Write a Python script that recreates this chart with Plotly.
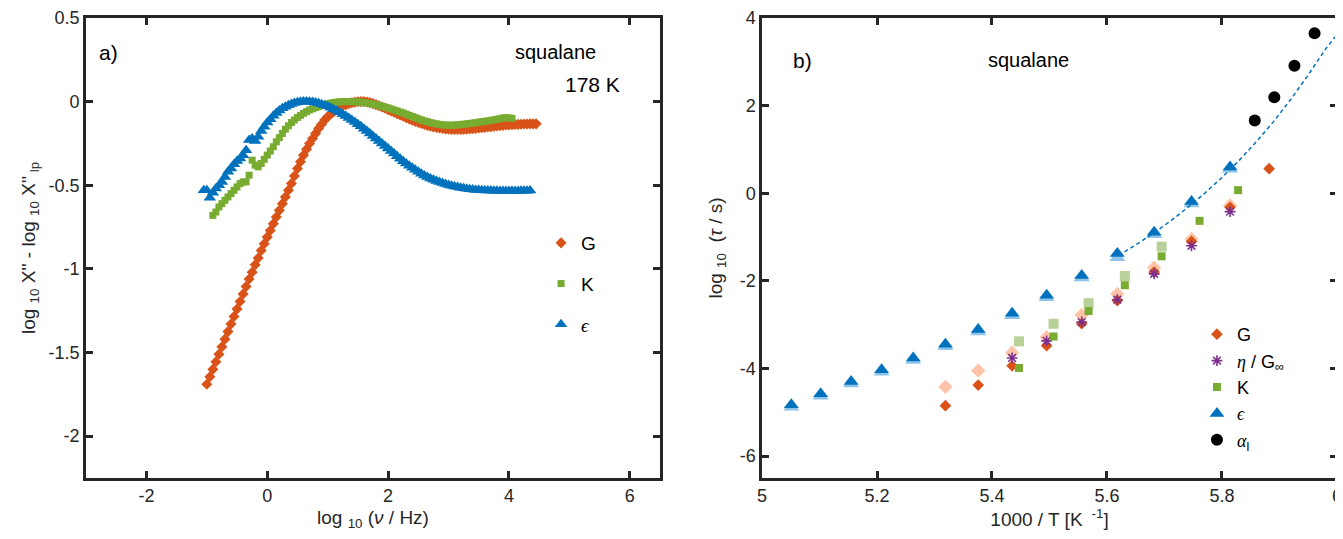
import plotly.graph_objects as go

# ---------------- Panel a data ----------------
log_freq = [-1.05, -1.00, -0.95, -0.90, -0.85, -0.80, -0.75, -0.70, -0.65, -0.60,
            -0.55, -0.50, -0.45, -0.40, -0.35, -0.30, -0.25, -0.20, -0.15, -0.10,
            -0.05, 0.00, 0.05, 0.10, 0.15, 0.20, 0.25, 0.30, 0.35, 0.40,
            0.45, 0.50, 0.55, 0.60, 0.65, 0.70, 0.75, 0.80, 0.85, 0.90,
            0.95, 1.00, 1.05, 1.10, 1.15, 1.20, 1.25, 1.30, 1.35, 1.40,
            1.45, 1.50, 1.55, 1.60, 1.65, 1.70, 1.75, 1.80, 1.85, 1.90,
            1.95, 2.00, 2.05, 2.10, 2.15, 2.20, 2.25, 2.30, 2.35, 2.40,
            2.45, 2.50, 2.55, 2.60, 2.65, 2.70, 2.75, 2.80, 2.85, 2.90,
            2.95, 3.00, 3.05, 3.10, 3.15, 3.20, 3.25, 3.30, 3.35, 3.40,
            3.45, 3.50, 3.55, 3.60, 3.65, 3.70, 3.75, 3.80, 3.85, 3.90,
            3.95, 4.00, 4.05, 4.10, 4.15, 4.20, 4.25, 4.30, 4.35, 4.40,
            4.45]

G_spec = [-1.69, -1.645, -1.60, -1.555, -1.51, -1.465, -1.42, -1.375, -1.33, -1.285,
          -1.24, -1.195, -1.15, -1.105, -1.06, -1.02, -0.975, -0.935, -0.89, -0.85,
          -0.81, -0.77, -0.73, -0.69, -0.65, -0.61, -0.57, -0.53, -0.49, -0.445,
          -0.40, -0.36, -0.32, -0.285, -0.25, -0.22, -0.19, -0.16, -0.135, -0.11,
          -0.09, -0.075, -0.06, -0.045, -0.035, -0.025, -0.018, -0.012, -0.007, -0.003,
          -0.001, 0.0, 0.0, -0.002, -0.006, -0.012, -0.018, -0.025, -0.032, -0.04,
          -0.048, -0.056, -0.064, -0.072, -0.08, -0.088, -0.096, -0.104, -0.111, -0.118,
          -0.125, -0.131, -0.137, -0.142, -0.147, -0.151, -0.155, -0.158, -0.161, -0.163,
          -0.165, -0.166, -0.167, -0.167, -0.167, -0.166, -0.165, -0.164, -0.162, -0.16,
          -0.158, -0.156, -0.154, -0.152, -0.15, -0.148, -0.146, -0.144, -0.142, -0.14,
          -0.139, -0.138, -0.137, -0.136, -0.135, -0.134, -0.134, -0.133, -0.133, -0.133]

K_spec = [-0.68, -0.66, -0.63, -0.61, -0.59, -0.57, -0.55, -0.53, -0.51, -0.49,
          -0.48, -0.48, -0.44, -0.35, -0.38, -0.39, -0.37, -0.345, -0.32, -0.295,
          -0.27, -0.24, -0.215, -0.19, -0.165, -0.145, -0.125, -0.11, -0.095, -0.082,
          -0.07, -0.06, -0.05, -0.043, -0.036, -0.03, -0.024, -0.018, -0.013, -0.009,
          -0.006, -0.003, -0.001, 0.0, 0.0, 0.0, 0.0, -0.001, -0.002, -0.004,
          -0.006, -0.009, -0.012, -0.015, -0.019, -0.023, -0.028, -0.033, -0.038, -0.044,
          -0.05, -0.056, -0.062, -0.068, -0.075, -0.082, -0.089, -0.096, -0.103, -0.109,
          -0.115, -0.12, -0.125, -0.129, -0.133, -0.136, -0.139, -0.14, -0.141, -0.141,
          -0.14, -0.139, -0.137, -0.135, -0.133, -0.131, -0.128, -0.126, -0.123, -0.12,
          -0.118, -0.115, -0.112, -0.109, -0.106, -0.102, -0.098, -0.095, -0.098, -0.10]

eps_spec = [-0.53, -0.53, -0.575, -0.545, -0.52, -0.50, -0.48, -0.45, -0.42, -0.40,
            -0.375, -0.355, -0.34, -0.32, -0.29, -0.23, -0.22, -0.235, -0.21, -0.175,
            -0.15, -0.125, -0.105, -0.085, -0.068, -0.053, -0.04, -0.03, -0.021, -0.014,
            -0.008, -0.004, -0.001, 0.0, 0.0, -0.001, -0.003, -0.006, -0.01, -0.015,
            -0.021, -0.028, -0.036, -0.045, -0.054, -0.064, -0.075, -0.086, -0.098, -0.11,
            -0.122, -0.135, -0.148, -0.162, -0.176, -0.19, -0.205, -0.22, -0.235, -0.25,
            -0.265, -0.28, -0.295, -0.31, -0.326, -0.341, -0.356, -0.37, -0.383, -0.396,
            -0.408, -0.42, -0.431, -0.441, -0.45, -0.459, -0.467, -0.474, -0.481, -0.487,
            -0.493, -0.498, -0.503, -0.507, -0.511, -0.515, -0.518, -0.521, -0.524, -0.526,
            -0.528, -0.529, -0.530, -0.531, -0.532, -0.532, -0.533, -0.533, -0.534, -0.534,
            -0.534, -0.534, -0.534, -0.534, -0.534, -0.533, -0.533, -0.533, -0.532]

G_freq = log_freq[1:111]
K_freq = log_freq[3:103]
eps_freq = log_freq[0:109]

# ---------------- Panel b data ----------------
eps_invT = [5.051, 5.102, 5.155, 5.208, 5.263, 5.319, 5.376, 5.435, 5.495, 5.556, 5.618, 5.682, 5.747, 5.814]
eps_tau = [-4.83, -4.58, -4.30, -4.03, -3.76, -3.45, -3.11, -2.74, -2.33, -1.88, -1.375, -0.89, -0.19, 0.60]
eps_tau_alt = [-4.88, -4.63, -4.35, -4.08, -3.81, -3.50, -3.16, -2.79, -2.38, -1.93, -1.47, -0.94, -0.24, 0.55]

G_invT = [5.319, 5.376, 5.435, 5.495, 5.556, 5.618, 5.682, 5.747, 5.814, 5.882]
G_tau = [-4.85, -4.38, -3.94, -3.48, -2.98, -2.45, -1.80, -1.10, -0.32, 0.56]
G_alt_invT = [5.319, 5.376, 5.435, 5.495, 5.556, 5.618, 5.682, 5.747, 5.814]
G_tau_alt = [-4.42, -4.05, -3.64, -3.29, -2.78, -2.30, -1.70, -1.05, -0.28]

eta_invT = [5.435, 5.495, 5.556, 5.618, 5.682, 5.747, 5.814]
eta_tau = [-3.76, -3.37, -2.94, -2.43, -1.84, -1.20, -0.42]

K_invT = [5.447, 5.507, 5.568, 5.631, 5.695, 5.761, 5.828]
K_tau = [-3.99, -3.27, -2.69, -2.10, -1.44, -0.63, 0.07]
K_alt_invT = [5.447, 5.507, 5.568, 5.631, 5.695]
K_tau_alt = [-3.38, -2.98, -2.51, -1.89, -1.22]

alpha_invT = [5.857, 5.891, 5.926, 5.961]
alpha_tau = [1.66, 2.19, 2.91, 3.65]

fit_invT = [5.62, 5.65, 5.68, 5.71, 5.74, 5.77, 5.80, 5.83, 5.86, 5.89, 5.92, 5.95, 5.98, 6.00]
fit_tau = [-1.42, -1.18, -0.92, -0.64, -0.33, 0.00, 0.36, 0.75, 1.18, 1.64, 2.15, 2.70, 3.29, 3.62]

# ---------------- Axis ticks ----------------
a_xticks = [-2, 0, 2, 4, 6]
a_xlabels = ["-2", "0", "2", "4", "6"]
a_yticks = [-2, -1.5, -1, -0.5, 0, 0.5]
a_ylabels = ["-2", "-1.5", "-1", "-0.5", "0", "0.5"]
b_xticks = [5, 5.2, 5.4, 5.6, 5.8, 6]
b_xlabels = ["5", "5.2", "5.4", "5.6", "5.8", "6"]
b_yticks = [-6, -4, -2, 0, 2, 4]
b_ylabels = ["-6", "-4", "-2", "0", "2", "4"]

# ---------------- Styles ----------------
C_G = "#D95319"
C_G_LIGHT = "#FFC3A8"
C_K = "#77AC30"
C_K_LIGHT = "#B7D198"
C_E = "#0072BD"
C_E_LIGHT = "#8EC3EA"
C_ETA = "#7E2F8E"
TXT = "#262626"
FONT = "Liberation Sans"
SERIF = "Liberation Serif"

# the page body adds an 8px margin, so the figure is 8px smaller
W, H = 1335, 531

fig = go.Figure()

# Panel a
fig.add_trace(go.Scatter(x=G_freq, y=G_spec, mode="markers", name="G",
                         marker=dict(symbol="diamond", size=8.5, color=C_G),
                         xaxis="x", yaxis="y", legend="legend", legendgroup="aG"))
fig.add_trace(go.Scatter(x=K_freq, y=K_spec, mode="markers", name="K",
                         marker=dict(symbol="square", size=7, color=C_K),
                         xaxis="x", yaxis="y", legend="legend", legendgroup="aK"))
fig.add_trace(go.Scatter(x=eps_freq, y=eps_spec, mode="markers",
                         name="<span style='font-family:%s'><i>ϵ</i></span>" % SERIF,
                         marker=dict(symbol="triangle-up", size=11, color=C_E),
                         xaxis="x", yaxis="y", legend="legend", legendgroup="aE"))

# Panel b (light variants first, behind)
fig.add_trace(go.Scatter(x=G_alt_invT, y=G_tau_alt, mode="markers", showlegend=False,
                         marker=dict(symbol="diamond", size=11, color=C_G_LIGHT),
                         xaxis="x2", yaxis="y2"))
fig.add_trace(go.Scatter(x=K_alt_invT, y=K_tau_alt, mode="markers", showlegend=False,
                         marker=dict(symbol="square", size=10, color=C_K_LIGHT),
                         xaxis="x2", yaxis="y2"))
fig.add_trace(go.Scatter(x=eps_invT, y=eps_tau_alt, mode="markers", showlegend=False,
                         marker=dict(symbol="triangle-up", size=14, color=C_E_LIGHT),
                         xaxis="x2", yaxis="y2"))
fig.add_trace(go.Scatter(x=fit_invT, y=fit_tau, mode="lines", showlegend=False,
                         line=dict(color=C_E, width=1.5, dash="4px,3px"),
                         xaxis="x2", yaxis="y2"))
fig.add_trace(go.Scatter(x=G_invT, y=G_tau, mode="markers", name="G",
                         marker=dict(symbol="diamond", size=9, color=C_G),
                         xaxis="x2", yaxis="y2", legend="legend2", legendgroup="b1"))
fig.add_trace(go.Scatter(x=eta_invT, y=eta_tau, mode="markers",
                         name="<span style='font-family:%s'><i>η</i></span> / G<sub>∞</sub>" % SERIF,
                         marker=dict(symbol="asterisk-open", size=9, color=C_ETA,
                                     line=dict(color=C_ETA, width=1.6)),
                         xaxis="x2", yaxis="y2", legend="legend2", legendgroup="b2"))
fig.add_trace(go.Scatter(x=K_invT, y=K_tau, mode="markers", name="K",
                         marker=dict(symbol="square", size=8, color=C_K),
                         xaxis="x2", yaxis="y2", legend="legend2", legendgroup="b3"))
fig.add_trace(go.Scatter(x=eps_invT, y=eps_tau, mode="markers",
                         name="<span style='font-family:%s'><i>ϵ</i></span>" % SERIF,
                         marker=dict(symbol="triangle-up", size=13, color=C_E),
                         xaxis="x2", yaxis="y2", legend="legend2", legendgroup="b4"))
fig.add_trace(go.Scatter(x=alpha_invT, y=alpha_tau, mode="markers",
                         name="<span style='font-family:%s'><i>α</i></span><sub>l</sub>" % SERIF,
                         marker=dict(symbol="circle", size=12, color="black"),
                         xaxis="x2", yaxis="y2", legend="legend2", legendgroup="b5"))

axis_common = dict(showline=True, linewidth=2.5, linecolor=TXT, mirror="allticks",
                   ticks="inside", ticklen=7, tickwidth=2.5, tickcolor=TXT,
                   showgrid=False, zeroline=False,
                   tickfont=dict(family=FONT, size=18, color=TXT))

ydom = [0.1149, 0.9812]
title_font = dict(family=FONT, size=19, color=TXT)

fig.update_layout(
    width=W, height=H,
    margin=dict(l=0, r=0, t=0, b=0),
    template="none",
    paper_bgcolor="white", plot_bgcolor="white",
    font=dict(family=FONT, size=18, color=TXT),
    xaxis=dict(domain=[0.0584, 0.4884], range=[-3, 6.5], anchor="y",
               tickvals=a_xticks, ticktext=a_xlabels,
               title=dict(text="log <sub>10</sub> (<i>ν</i> / Hz)", standoff=6, font=title_font),
               **axis_common),
    yaxis=dict(domain=ydom, range=[-2.25, 0.5], anchor="x",
               tickvals=a_yticks, ticktext=a_ylabels,
               title=dict(text="log <sub>10</sub> X'' - log <sub>10</sub> X''<sub> lp</sub>",
                          standoff=8, font=title_font),
               **axis_common),
    xaxis2=dict(domain=[0.5648, 0.9955], range=[5, 6], anchor="y2",
                tickvals=b_xticks, ticktext=b_xlabels,
                title=dict(text="1000 / T [K <sup> -1</sup>]", standoff=6, font=title_font),
                **axis_common),
    yaxis2=dict(domain=ydom, range=[-6.5, 4], anchor="x2",
                tickvals=b_yticks, ticktext=b_ylabels,
                title=dict(text="log <sub>10</sub>  (<i>τ</i> / s)", standoff=12, font=title_font),
                **axis_common),
    legend=dict(x=0.3993, y=0.5932, xanchor="left", yanchor="top",
                bgcolor="rgba(0,0,0,0)", borderwidth=0,
                font=dict(family=FONT, size=19, color="black"),
                tracegroupgap=13, itemclick=False),
    legend2=dict(x=0.8906, y=0.42, xanchor="left", yanchor="top",
                 bgcolor="rgba(0,0,0,0)", borderwidth=0,
                 font=dict(family=FONT, size=18, color="black"),
                 tracegroupgap=0, itemclick=False),
    annotations=[
        dict(x=-2.82, y=0.296, xref="x", yref="y", text="a)", showarrow=False,
             xanchor="left", yanchor="middle", font=dict(family=FONT, size=21, color="black")),
        dict(x=5.47, y=0.296, xref="x", yref="y", text="squalane", showarrow=False,
             xanchor="right", yanchor="middle", font=dict(family=FONT, size=20, color="black")),
        dict(x=5.87, y=0.104, xref="x", yref="y", text="178 K", showarrow=False,
             xanchor="right", yanchor="middle", font=dict(family=FONT, size=21, color="black")),
        dict(x=5.05, y=3.04, xref="x2", yref="y2", text="b)", showarrow=False,
             xanchor="left", yanchor="middle", font=dict(family=FONT, size=21, color="black")),
        dict(x=5.463, y=3.04, xref="x2", yref="y2", text="squalane", showarrow=False,
             xanchor="center", yanchor="middle", font=dict(family=FONT, size=20, color="black")),
    ],
)

fig.write_html("out.html")
